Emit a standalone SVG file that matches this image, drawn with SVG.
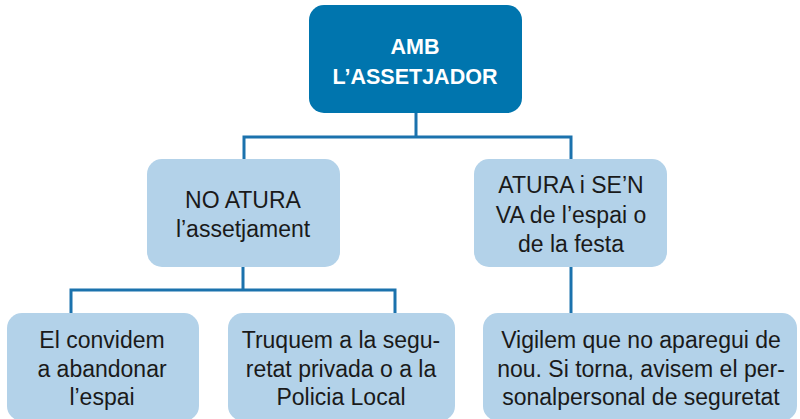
<svg xmlns="http://www.w3.org/2000/svg" width="800" height="419" viewBox="0 0 800 419">
<style>
.top{fill:#0075ae}
.box{fill:#b3d2e9}
.t{font-family:"Liberation Sans",Arial,sans-serif;font-size:23px;fill:#1a1a1a;text-anchor:middle}
.tb{font-family:"Liberation Sans",Arial,sans-serif;font-size:21.5px;font-weight:bold;fill:#ffffff;text-anchor:middle}
.c{fill:none;stroke:#1b72ad;stroke-width:3}
</style>
<rect width="800" height="419" fill="#ffffff"/>
<g id="connectors">
<path class="c" d="M416,113 V137 M244,160 V137 H571 V160"/>
<path class="c" d="M243,267 V290 M71,313 V290 H395 V313"/>
<path class="c" d="M571,267 V313"/>
</g>
<g id="n-top">
<rect class="top" x="309" y="5" width="213" height="108" rx="15"/>
<text class="tb" x="415" y="54">AMB</text>
<text class="tb" x="415" y="84">L’ASSETJADOR</text>
</g>
<g id="n-noatura">
<rect class="box" x="147" y="159" width="193" height="108" rx="15"/>
<text class="t" x="243" y="208">NO ATURA</text>
<text class="t" x="243" y="237">l’assetjament</text>
</g>
<g id="n-atura">
<rect class="box" x="474" y="159" width="193" height="108" rx="15"/>
<text class="t" x="571" y="193">ATURA i SE’N</text>
<text class="t" x="571" y="223">VA de l’espai o</text>
<text class="t" x="571" y="252">de la festa</text>
</g>
<g id="n-convidem">
<rect class="box" x="7" y="313" width="192" height="108" rx="15"/>
<text class="t" x="102" y="348">El convidem</text>
<text class="t" x="102" y="377">a abandonar</text>
<text class="t" x="102" y="405">l’espai</text>
</g>
<g id="n-truquem">
<rect class="box" x="228" y="313" width="227" height="108" rx="15"/>
<text class="t" x="341" y="348">Truquem a la segu-</text>
<text class="t" x="341" y="377">retat privada o a la</text>
<text class="t" x="341" y="405">Policia Local</text>
</g>
<g id="n-vigilem">
<rect class="box" x="483" y="313" width="314" height="108" rx="15"/>
<text class="t" x="641" y="348">Vigilem que no aparegui de</text>
<text class="t" x="641" y="377">nou. Si torna, avisem el per-</text>
<text class="t" x="641" y="405">sonalpersonal de seguretat</text>
</g>
</svg>
